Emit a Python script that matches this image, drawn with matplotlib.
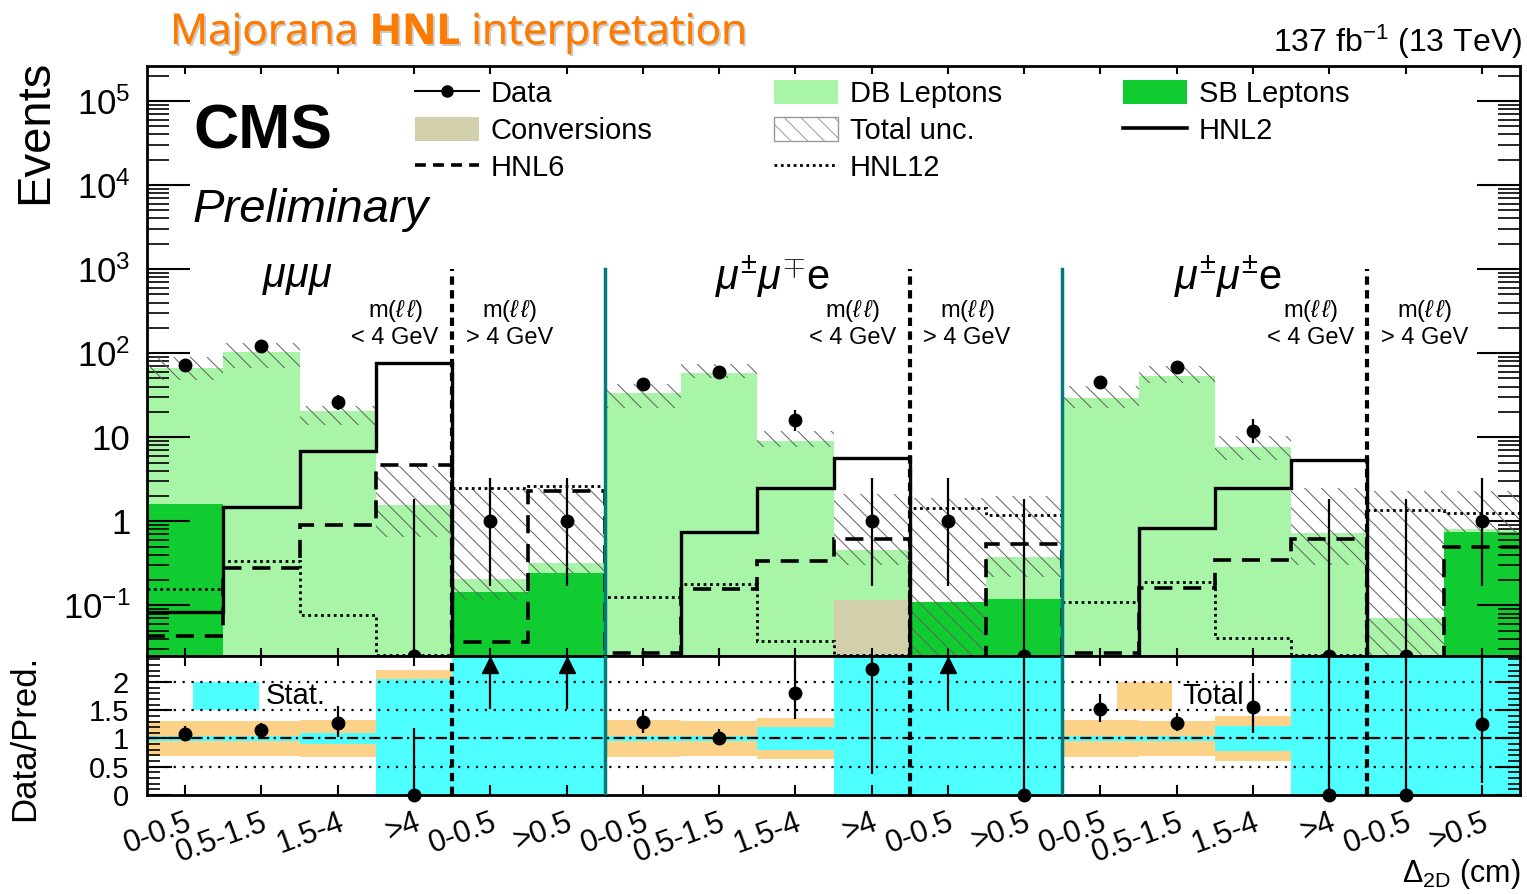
import numpy as np
import matplotlib
matplotlib.use("Agg")
import matplotlib.pyplot as plt
from matplotlib.patches import Patch
from matplotlib.lines import Line2D
from matplotlib.ticker import FixedLocator, FixedFormatter, LogLocator, MultipleLocator, NullFormatter
from matplotlib import patheffects

plt.rcParams['font.family'] = ['Liberation Sans', 'DejaVu Sans']
plt.rcParams['mathtext.fontset'] = 'custom'
plt.rcParams['mathtext.rm'] = 'Liberation Sans'
plt.rcParams['mathtext.it'] = 'Liberation Sans:italic'
plt.rcParams['mathtext.bf'] = 'Liberation Sans:bold'
plt.rcParams['hatch.linewidth'] = 0.7

# --- valeurs (18 bins : 3 canaux x 6) ---
bin_labels = ["0-0.5", "0.5-1.5", "1.5-4", ">4", "0-0.5", ">0.5"] * 3
channels = [r"$\mu\mu\mu$", r"$\mu^{\pm}\mu^{\mp}$e", r"$\mu^{\pm}\mu^{\pm}$e"]

data = np.array([72, 120, 26, 0, 1, 1, 43, 59, 16, 1, 1, 0, 45, 69, 12, 0, 0, 1])
data_err_lo = np.array([8.5, 10.9, 5.1, 0, 0.83, 0.83, 6.5, 7.7, 4.0, 0.83, 0.83, 0,
                        6.7, 8.3, 3.5, 0, 0, 0.83])
data_err_hi = np.array([9.5, 12.0, 6.2, 1.84, 2.30, 2.30, 7.6, 8.7, 5.1, 2.30, 2.30, 1.84,
                        7.7, 9.3, 4.6, 1.84, 1.84, 2.30])

sb = np.array([1.6, 0, 0, 0, 0.144, 0.24, 0, 0, 0, 0, 0.11, 0.12, 0, 0, 0, 0, 0, 0.74])
conv = np.array([0, 0, 0, 0, 0, 0, 0, 0, 0, 0.115, 0, 0, 0, 0, 0, 0, 0, 0])
db = np.array([65.4, 104, 20.5, 1.55, 0.061, 0.08, 33.5, 58, 8.9, 0.335, 0, 0.26,
               29.5, 54, 7.7, 0.72, 0.07, 0.06])

band_lo = np.array([48, 67, 13.9, 0.65, 0.115, 0.24, 22.5, 50, 7.6, 0.3, 0, 0.22,
                    22, 44, 5.3, 0.30, 0, 0.75])
band_hi = np.array([90, 133, 23.6, 4.6, 2.45, 2.5, 43, 75, 12, 2.1, 1.9, 2.0,
                    41, 70, 10.4, 2.5, 2.3, 2.3])

hnl2 = np.array([0.083, 1.47, 6.9, 77, 0, 0, 0, 0.74, 2.5, 5.6, 0, 0,
                 0, 0.83, 2.5, 5.4, 0, 0])
hnl6 = np.array([0.043, 0.28, 0.9, 4.7, 0.037, 2.3, 0.027, 0.156, 0.34, 0.61, 0, 0.53,
                 0.027, 0.16, 0.35, 0.61, 0, 0.50])
hnl12 = np.array([0.155, 0.34, 0.076, 0.026, 2.5, 2.6, 0.125, 0.18, 0.038, 0.026, 1.42, 1.18,
                  0.11, 0.19, 0.041, 0.026, 1.35, 1.25])

stat_rel = np.array([0.04, 0.04, 0.09, 1.05, 9, 9, 0.04, 0.04, 0.2, 9, 9, 9,
                     0.04, 0.04, 0.22, 9, 9, 9])
tot_rel = np.array([0.31, 0.31, 0.32, 1.21, 9, 9, 0.32, 0.31, 0.37, 9, 9, 9,
                    0.32, 0.31, 0.39, 9, 9, 9])

# --- couleurs ---
C_SB = '#10cc30'
C_DB = '#a8f5a8'
C_CONV = '#d2cfab'
C_STAT = '#4dffff'
C_TOT = '#fcd288'
C_TEAL = '#007a7a'
C_HATCH = '#606060'

W, H = 1527, 894
YMIN, YMAX = 0.025, 2.6e5
RMAX = 2.46
TINY = 1e-5

fig = plt.figure(figsize=(W / 100, H / 100), dpi=100)
ax = fig.add_axes([147 / W, 1 - 656 / H, 1373 / W, 590 / H])
rax = fig.add_axes([147 / W, 1 - 795 / H, 1373 / W, 139 / H], sharex=ax)

edges = np.arange(len(data) + 1)
centers = edges[:-1] + 0.5
total = sb + conv + db

# pile
b0 = np.full(len(data), TINY)
ax.stairs(np.maximum(sb, TINY), edges, baseline=b0, fill=True, color=C_SB, zorder=1)
ax.stairs(np.maximum(sb + conv, TINY), edges, baseline=np.maximum(sb, TINY), fill=True,
          color=C_CONV, zorder=1)
ax.stairs(np.maximum(total, TINY), edges, baseline=np.maximum(sb + conv, TINY), fill=True,
          color=C_DB, zorder=1)
ax.stairs(band_hi, edges, baseline=np.maximum(band_lo, TINY), fill=True, facecolor='none',
          edgecolor=C_HATCH, hatch='\\\\', linewidth=0, zorder=2)

# signaux
ax.stairs(np.where(hnl2 > 0, hnl2, TINY), edges, baseline=None, color='k', lw=2.4, zorder=3)
ax.stairs(np.where(hnl6 > 0, hnl6, TINY), edges, baseline=None, color='k', lw=2.6,
          ls=(0, (5, 3)), zorder=3)
ax.stairs(np.where(hnl12 > 0, hnl12, TINY), edges, baseline=None, color='k', lw=2.0,
          ls=(0, (1, 1.3)), zorder=3)

# séparateurs
for xe in [4, 10, 16]:
    ax.plot([xe, xe], [YMIN, 1000], color='k', lw=3, ls=(0, (2, 1.3)), zorder=4)
    rax.axvline(xe, color='k', lw=3, ls=(0, (2, 1.3)), zorder=4)
for xe in [6, 12]:
    ax.plot([xe, xe], [YMIN, 1000], color=C_TEAL, lw=2.5, zorder=4)
    rax.axvline(xe, color=C_TEAL, lw=2.5, zorder=4)

# données
ax.vlines(centers, np.maximum(data - data_err_lo, TINY), data + data_err_hi, color='k', lw=1.6, zorder=5)
ax.plot(centers, np.where(data > 0, data, YMIN), 'o', color='k', ms=9, zorder=6)

ax.set_yscale('log')
ax.set_ylim(YMIN, YMAX)
ax.set_xlim(0, len(data))
ax.yaxis.set_major_locator(FixedLocator([1e-1, 1, 10, 1e2, 1e3, 1e4, 1e5]))
ax.yaxis.set_major_formatter(FixedFormatter([r'$10^{-1}$', '1', '10', r'$10^{2}$',
                                             r'$10^{3}$', r'$10^{4}$', r'$10^{5}$']))
ax.yaxis.set_minor_locator(LogLocator(base=10, subs=np.arange(2, 10), numticks=50))
ax.yaxis.set_minor_formatter(NullFormatter())
ax.tick_params(axis='y', which='major', direction='in', length=31, width=1.5, right=True,
               labelsize=25, pad=12)
ax.tick_params(axis='y', which='minor', direction='in', length=16, width=1.2, right=True)
ax.tick_params(axis='x', which='both', direction='in', length=6, width=1.5, top=True,
               labelbottom=False)
for s in ax.spines.values():
    s.set_linewidth(2)

# textes canaux
for i, ch in enumerate(channels):
    x0 = 6 * i
    ax.text(x0 + [1.97, 2.2, 2.17][i], 800, ch, fontsize=30, ha='center', va='center', zorder=7)
    ax.text(x0 + 3.25, 224, 'm($\\ell\\,\\ell$)\n< 4 GeV', fontsize=17, ha='center', va='center',
            linespacing=1.2)
    ax.text(x0 + 4.75, 224, 'm($\\ell\\,\\ell$)\n> 4 GeV', fontsize=17, ha='center', va='center',
            linespacing=1.2)

# légende
handles = [
    Line2D([], [], color='k', marker='o', ms=8, lw=1.5, label='Data'),
    Patch(facecolor=C_CONV, label='Conversions'),
    Line2D([], [], color='k', lw=2.6, ls=(0, (3, 2)), label='HNL6'),
    Patch(facecolor=C_DB, label='DB Leptons'),
    Patch(facecolor='white', edgecolor='#999999', hatch='\\\\', label='Total unc.'),
    Line2D([], [], color='k', lw=2.0, ls=(0, (1, 1.3)), label='HNL12'),
    Patch(facecolor=C_SB, label='SB Leptons'),
    Line2D([], [], color='k', lw=2.6, label='HNL2'),
]
ax.legend(handles=handles, ncol=3, loc='upper left', bbox_to_anchor=(415 / W, 1 - 80 / H),
          bbox_transform=fig.transFigure, frameon=False, fontsize=21, handlelength=2.2,
          handleheight=0.9, handletextpad=0.4, columnspacing=4.15, labelspacing=0.3,
          borderpad=0, borderaxespad=0)

# --- panneau ratio ---
rax.stairs(1 + tot_rel, edges, baseline=np.maximum(1 - tot_rel, 0), fill=True, color=C_TOT, zorder=1)
rax.stairs(1 + stat_rel, edges, baseline=np.maximum(1 - stat_rel, 0), fill=True, color=C_STAT, zorder=1)
for yv in [0.5, 1.5, 2.0]:
    rax.axhline(yv, color='k', lw=1.6, ls=(0, (1, 3)), zorder=2)
rax.axhline(1.0, color='k', lw=1.6, ls=(0, (5, 2, 1, 2)), zorder=2)

ratio = data / total
r_lo = (data - data_err_lo) / total
r_hi = (data + data_err_hi) / total
ok = ratio <= RMAX
rax.vlines(centers[ok], r_lo[ok], r_hi[ok], color='k', lw=1.6, zorder=5)
rax.plot(centers[ok], ratio[ok], 'o', color='k', ms=9, zorder=6, clip_on=False)
up = ~ok
rax.vlines(centers[up], 1.52, 2.3, color='k', lw=1.6, zorder=5)
rax.plot(centers[up], np.full(up.sum(), 2.3), '^', color='k', ms=11, zorder=6)

# légende ratio
rax.add_patch(plt.Rectangle((0.6, 1.5), 0.87, 0.5, facecolor=C_STAT, edgecolor='none', zorder=1.5))
rax.text(1.55, 1.75, 'Stat.', fontsize=21, va='center', ha='left', zorder=7)
rax.add_patch(plt.Rectangle((12.72, 1.5), 0.72, 0.5, facecolor=C_TOT, edgecolor='none', zorder=1.5))
rax.text(13.57, 1.75, 'Total', fontsize=21, va='center', ha='left', zorder=7)

rax.set_ylim(0, RMAX)
rax.set_yticks([0, 0.5, 1, 1.5, 2])
rax.set_yticklabels(['0', '0.5', '1', '1.5', '2'])
rax.yaxis.set_minor_locator(MultipleLocator(0.1))
rax.tick_params(axis='y', which='major', direction='in', length=18, width=1.5, right=True,
                labelsize=21, pad=13)
rax.tick_params(axis='y', which='minor', direction='in', length=9, width=1.2, right=True)
rax.set_xticks(centers)
rax.set_xticklabels(bin_labels, rotation=20, ha='right', va='top', rotation_mode='anchor',
                    fontsize=22)
rax.tick_params(axis='x', which='both', direction='in', length=7, width=1.5, top=True, pad=9)
rax.xaxis.set_minor_locator(FixedLocator([]))
for s in rax.spines.values():
    s.set_linewidth(2)

# --- textes ---
fig.text(35 / W, 1 - 60 / H, 'Events', rotation=90, ha='center', va='top', fontsize=34)
fig.text(25 / W, 1 - 738 / H, 'Data/Pred.', rotation=90, ha='center', va='center', fontsize=25)
fig.text(1520 / W, 1 - 874 / H, r'$\Delta_{\rm 2D}$ (cm)', ha='right', va='center', fontsize=22)
fig.text(193 / W, 1 - 132 / H, 'CMS', fontweight='bold', fontsize=45, va='center')
fig.text(193 / W, 1 - 210 / H, 'Preliminary', style='italic', fontsize=34, va='center')
fig.text(1522 / W, 1 - 42 / H, r'137 fb$^{-1}$ (13 TeV)', ha='right', va='center', fontsize=23)

# titre orange en trois morceaux
shadow = [patheffects.withSimplePatchShadow(offset=(1.5, -1.5), shadow_rgbFace='#999999', alpha=0.5),
          patheffects.Normal()]
renderer = fig.canvas.get_renderer()
x_px = 170
for txt, wgt in [('Majorana', 'normal'), ('HNL', 'bold'), ('interpretation', 'normal')]:
    t = fig.text(x_px / W, 1 - 44 / H, txt, fontsize=30.5, family='Open Sans', weight=wgt,
                 color='#ff7a00', va='baseline', ha='left', path_effects=shadow)
    bb = t.get_window_extent(renderer)
    x_px = bb.x1 + 11

fig.savefig('out.png', dpi=100)
